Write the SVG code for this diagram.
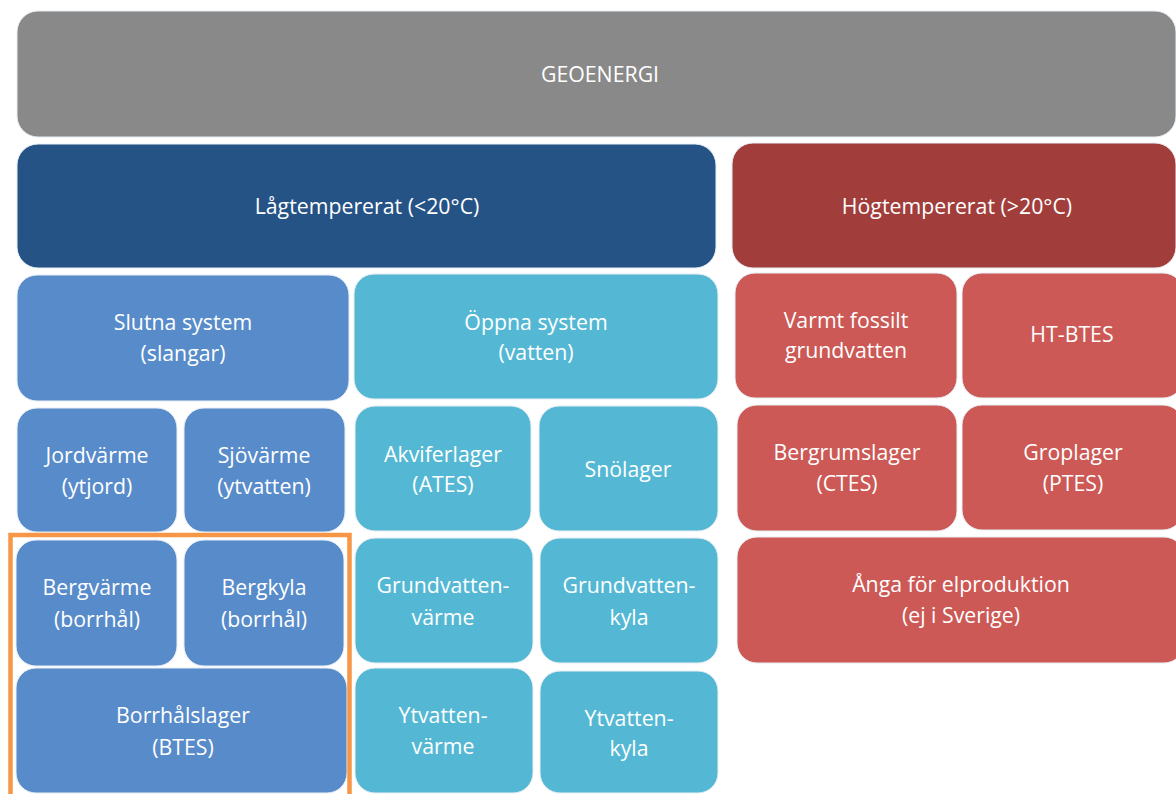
<svg xmlns="http://www.w3.org/2000/svg" width="1176" height="794" viewBox="0 0 1176 794">
<style>
rect.n{stroke:#e8eef4;stroke-width:1}
.gray{fill:#898989}
.dblue{fill:#265386}
.lblue{fill:#588BCA}
.cyan{fill:#54B8D4}
.dred{fill:#A13E3B}
.red{fill:#CC5955}
text{font-family:"Open Sans","Noto Sans",sans-serif;font-size:21.3px;fill:#ffffff;text-anchor:middle}
</style>
<rect width="1176" height="794" fill="#ffffff"/>
<g id="geoenergi"><rect class="n gray" x="17" y="11" width="1159" height="126" rx="21"/><text x="600" y="82">GEOENERGI</text></g>
<g id="lagtemp"><rect class="n dblue" x="17" y="144" width="699" height="124" rx="21"/><text x="367" y="214">Lågtempererat (&lt;20°C)</text></g>
<g id="hogtemp"><rect class="n dred" x="732" y="143" width="444" height="125" rx="21"/><text x="957" y="214">Högtempererat (&gt;20°C)</text></g>
<g id="slutna"><rect class="n lblue" x="17" y="275" width="332" height="126" rx="20"/><text x="183" y="330">Slutna system</text><text x="183" y="361">(slangar)</text></g>
<g id="oppna"><rect class="n cyan" x="354" y="274" width="364" height="125" rx="20"/><text x="536" y="330">Öppna system</text><text x="536" y="360">(vatten)</text></g>
<g id="varmt"><rect class="n red" x="735" y="273" width="222" height="125" rx="20"/><text x="846" y="328">Varmt fossilt</text><text x="846" y="358">grundvatten</text></g>
<g id="htbtes"><rect class="n red" x="962" y="273" width="221" height="125" rx="20"/><text x="1072" y="342">HT-BTES</text></g>
<g id="jordvarme"><rect class="n lblue" x="17" y="408" width="160" height="124" rx="20"/><text x="97" y="463">Jordvärme</text><text x="97" y="494">(ytjord)</text></g>
<g id="sjovarme"><rect class="n lblue" x="184" y="408" width="161" height="124" rx="20"/><text x="264" y="463">Sjövärme</text><text x="264" y="494">(ytvatten)</text></g>
<g id="akvifer"><rect class="n cyan" x="355" y="406" width="176" height="125" rx="20"/><text x="443" y="462">Akviferlager</text><text x="443" y="492">(ATES)</text></g>
<g id="snolager"><rect class="n cyan" x="539" y="406" width="179" height="125" rx="20"/><text x="628" y="477">Snölager</text></g>
<g id="bergrum"><rect class="n red" x="737" y="405" width="220" height="126" rx="20"/><text x="847" y="460">Bergrumslager</text><text x="847" y="491">(CTES)</text></g>
<g id="groplager"><rect class="n red" x="962" y="405" width="221" height="125" rx="20"/><text x="1073" y="460">Groplager</text><text x="1073" y="491">(PTES)</text></g>
<g id="bergvarme"><rect class="n lblue" x="16" y="540" width="161" height="126" rx="20"/><text x="97" y="595">Bergvärme</text><text x="97" y="627">(borrhål)</text></g>
<g id="bergkyla"><rect class="n lblue" x="184" y="540" width="160" height="126" rx="20"/><text x="264" y="595">Bergkyla</text><text x="264" y="627">(borrhål)</text></g>
<g id="gvvarme"><rect class="n cyan" x="355" y="538" width="178" height="125" rx="20"/><text x="443" y="593">Grundvatten-</text><text x="443" y="625">värme</text></g>
<g id="gvkyla"><rect class="n cyan" x="540" y="538" width="178" height="125" rx="20"/><text x="629" y="593">Grundvatten-</text><text x="629" y="625">kyla</text></g>
<g id="anga"><rect class="n red" x="737" y="537" width="447" height="126" rx="20"/><text x="961" y="592">Ånga för elproduktion</text><text x="961" y="623">(ej i Sverige)</text></g>
<g id="borrhalslager"><rect class="n lblue" x="16" y="668" width="331" height="125" rx="20"/><text x="183" y="723">Borrhålslager</text><text x="183" y="755">(BTES)</text></g>
<g id="ytvarme"><rect class="n cyan" x="355" y="668" width="178" height="125" rx="20"/><text x="443" y="723">Ytvatten-</text><text x="443" y="754">värme</text></g>
<g id="ytkyla"><rect class="n cyan" x="540" y="671" width="178" height="122" rx="20"/><text x="629" y="726">Ytvatten-</text><text x="629" y="756">kyla</text></g>
<g id="connectors"></g>
<g id="highlight"><rect x="10.5" y="535" width="339" height="280" fill="none" stroke="#F79646" stroke-width="4.5"/></g>
</svg>
